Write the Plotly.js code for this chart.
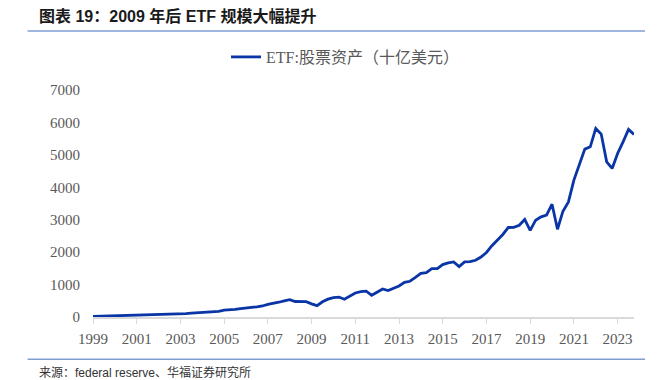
<!DOCTYPE html>
<html>
<head>
<meta charset="utf-8">
<script src="https://cdn.plot.ly/plotly-3.0.1.min.js"></script>
<style>
html,body{margin:0;padding:0;background:#fff;}
#chart{width:672px;height:380px;}
</style>
</head>
<body>
<div id="chart"></div>
<script>
const quarters = [
"1998Q4",
"1999Q1","1999Q2","1999Q3","1999Q4",
"2000Q1","2000Q2","2000Q3","2000Q4",
"2001Q1","2001Q2","2001Q3","2001Q4",
"2002Q1","2002Q2","2002Q3","2002Q4",
"2003Q1","2003Q2","2003Q3","2003Q4",
"2004Q1","2004Q2","2004Q3","2004Q4",
"2005Q1","2005Q2","2005Q3","2005Q4",
"2006Q1","2006Q2","2006Q3","2006Q4",
"2007Q1","2007Q2","2007Q3","2007Q4",
"2008Q1","2008Q2","2008Q3","2008Q4",
"2009Q1","2009Q2","2009Q3","2009Q4",
"2010Q1","2010Q2","2010Q3","2010Q4",
"2011Q1","2011Q2","2011Q3","2011Q4",
"2012Q1","2012Q2","2012Q3","2012Q4",
"2013Q1","2013Q2","2013Q3","2013Q4",
"2014Q1","2014Q2","2014Q3","2014Q4",
"2015Q1","2015Q2","2015Q3","2015Q4",
"2016Q1","2016Q2","2016Q3","2016Q4",
"2017Q1","2017Q2","2017Q3","2017Q4",
"2018Q1","2018Q2","2018Q3","2018Q4",
"2019Q1","2019Q2","2019Q3","2019Q4",
"2020Q1","2020Q2","2020Q3","2020Q4",
"2021Q1","2021Q2","2021Q3","2021Q4",
"2022Q1","2022Q2","2022Q3","2022Q4",
"2023Q1","2023Q2","2023Q3"
];

// ETF: corporate equities held, billions USD
const etfEquity = [
16,
20,24,27,34,
40,45,50,62,
66,72,70,80,
86,88,82,100,
106,118,126,146,
158,170,176,210,
216,232,255,285,
300,312,340,392,
413,455,500,537,
478,475,472,405,
352,470,550,600,
615,546,650,741,
785,795,670,770,
865,814,896,957,
1070,1102,1220,1345,
1370,1490,1495,1617,
1670,1700,1555,1699,
1705,1750,1850,1990,
2200,2380,2545,2760,
2765,2830,3007,2670,
2985,3087,3140,3479,
2707,3263,3551,4220,
4683,5177,5248,5815,
5640,4785,4580,5043,
5403,5785,5630
];

const yearTicks = [1999,2001,2003,2005,2007,2009,2011,2013,2015,2017,2019,2021,2023];
const yTicks = [0,1000,2000,3000,4000,5000,6000,7000];

const seriesName = "ETF:股票资产（十亿美元）";
const titleText = "图表 19：2009 年后 ETF 规模大幅提升";
const sourceText = "来源：federal reserve、华福证券研究所";

// quarter-end position on a year axis
const xPos = quarters.map(q => {
  const yr = parseInt(q.slice(0,4),10);
  const qt = parseInt(q.slice(5),10);
  return yr + qt/4;
});

const serif = "'Liberation Serif','Times New Roman','Noto Sans CJK SC',serif";
const cjk = "'Liberation Sans',Arial,'Noto Sans CJK SC',sans-serif";

const trace = {
  x: xPos,
  y: etfEquity,
  type: "scatter",
  mode: "lines",
  name: seriesName,
  line: {color: "#0a35a6", width: 2.8},
  hoverinfo: "skip"
};

const layout = {
  width: 672,
  height: 380,
  paper_bgcolor: "#ffffff",
  plot_bgcolor: "#ffffff",
  margin: {l: 92.5, r: 38, t: 90, b: 63.3, pad: 0},
  showlegend: true,
  legend: {
    orientation: "h",
    x: 345/672, xref: "container", xanchor: "center",
    y: 1 - 57/380, yref: "container", yanchor: "middle",
    font: {family: serif, size: 16, color: "#595959"},
    bgcolor: "rgba(0,0,0,0)",
    itemwidth: 30
  },
  xaxis: {
    type: "linear",
    range: [1999, 2023.75],
    tickvals: yearTicks,
    ticktext: yearTicks.map(String),
    showgrid: false,
    zeroline: false,
    showline: true,
    linecolor: "#d9d9d9",
    linewidth: 1.5,
    ticks: "outside",
    ticklen: 5,
    tickwidth: 1,
    tickcolor: "#d9d9d9",
    tickfont: {family: serif, size: 15, color: "#595959"},
    ticklabelstandoff: 2,
    fixedrange: true
  },
  yaxis: {
    range: [0, 7000],
    tickvals: yTicks,
    ticktext: yTicks.map(String),
    showgrid: false,
    zeroline: false,
    showline: false,
    ticks: "",
    tickfont: {family: serif, size: 15, color: "#595959"},
    ticklabelstandoff: 12,
    fixedrange: true
  },
  shapes: [
    {type: "line", xref: "paper", yref: "paper", x0: -65.5/541.5, x1: (645-92.5)/541.5,
     y0: 1 + (90-31)/226.7, y1: 1 + (90-31)/226.7,
     line: {color: "#7f9fd0", width: 1.5}},
    {type: "line", xref: "paper", yref: "paper", x0: -65.5/541.5, x1: (645-92.5)/541.5,
     y0: -(359-316.7)/226.7, y1: -(359-316.7)/226.7,
     line: {color: "#7f9fd0", width: 1.5}}
  ],
  annotations: [
    {text: "<b>" + titleText + "</b>", xref: "paper", yref: "paper",
     x: -(92.5-36)/541.5, y: 1 + (90-16)/226.7, xanchor: "left", yanchor: "middle",
     showarrow: false, font: {family: cjk, size: 16, color: "#1a1a1a"}},
    {text: sourceText, xref: "paper", yref: "paper",
     x: -(92.5-36)/541.5, y: -(372-316.7)/226.7, xanchor: "left", yanchor: "middle",
     showarrow: false, font: {family: cjk, size: 12, color: "#333333"}}
  ]
};

Plotly.newPlot("chart", [trace], layout, {displayModeBar: false, staticPlot: true});
</script>
</body>
</html>
